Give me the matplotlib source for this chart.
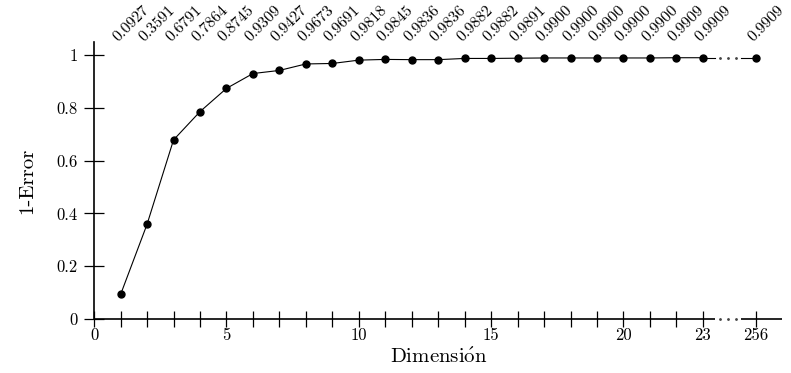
import matplotlib
matplotlib.use("Agg")
import matplotlib.pyplot as plt
import numpy as np

plt.rcParams['font.family'] = ['cmr10', 'DejaVu Serif']
plt.rcParams['mathtext.fontset'] = 'cm'
plt.rcParams['axes.formatter.use_mathtext'] = True

dims = list(range(1, 24))
acc = [0.0927, 0.3591, 0.6791, 0.7864, 0.8745, 0.9309, 0.9427, 0.9673, 0.9691,
       0.9818, 0.9845, 0.9836, 0.9836, 0.9882, 0.9882, 0.9891, 0.9900, 0.9900,
       0.9900, 0.9900, 0.9900, 0.9909, 0.9909]
last_dim_label = "256"
last_acc = 0.9909
last_pos = 25
x_tick_pos = [0, 5, 10, 15, 20, 23, last_pos]
x_tick_labels = ["0", "5", "10", "15", "20", "23", last_dim_label]
y_ticks = [0, 0.2, 0.4, 0.6, 0.8, 1]
y_tick_labels = ["0", "0.2", "0.4", "0.6", "0.8", "1"]

fig = plt.figure(figsize=(7.91, 3.73), dpi=100)
ax = fig.add_axes([0.119, 0.145, 0.870, 0.742])
ax.set_xlim(0, 26)
ax.set_ylim(0, 1.05)

for s in ['top', 'right', 'bottom']:
    ax.spines[s].set_visible(False)
ax.spines['left'].set_linewidth(1.2)

gap_a, gap_b = 23.45, 24.45
dots = np.linspace(gap_a + 0.2, gap_b - 0.2, 3)
# broken x axis
ax.plot([0, gap_a], [0, 0], color='black', lw=1.2, clip_on=False, solid_capstyle='butt')
ax.plot([gap_b, 26], [0, 0], color='black', lw=1.2, clip_on=False, solid_capstyle='butt')
ax.plot(dots, [0] * 3, ls='none', marker='.', ms=2, color='#444444', clip_on=False)

# data
ax.plot(dims, acc, color='black', lw=0.8, marker='o', ms=5)
ax.plot([dims[-1], gap_a], [acc[-1], last_acc], color='black', lw=0.8)
ax.plot([gap_b, last_pos], [last_acc, last_acc], color='black', lw=0.8)
ax.plot([last_pos], [last_acc], color='black', marker='o', ms=5)
ax.plot(dots, [last_acc] * 3, ls='none', marker='.', ms=2, color='#444444')

minor = [d for d in dims if d not in x_tick_pos]
ax.set_xticks(x_tick_pos)
ax.set_xticklabels(x_tick_labels)
ax.set_xticks(minor, minor=True)
ax.set_yticks(y_ticks)
ax.set_yticklabels(y_tick_labels)
ax.tick_params(axis='x', which='both', direction='inout', length=11, width=0.9,
               labelsize=12, pad=1)
ax.tick_params(axis='y', direction='inout', length=14, width=0.9, labelsize=12, pad=5)

ax.set_xlabel(r"$\mathrm{Dimensi}\acute{\mathrm{o}}\mathrm{n}$", fontsize=15, labelpad=3)
ax.set_ylabel("1-Error", fontsize=15, labelpad=14)

labels = ["%.4f" % v for v in acc] + ["%.4f" % last_acc]
positions = dims + [last_pos]
for p, t in zip(positions, labels):
    ax.text(p - 0.1, 1.05, t, rotation=45, rotation_mode='anchor', ha='left',
            va='baseline', fontsize=11.5, clip_on=False)

fig.savefig("out.png", dpi=100)
